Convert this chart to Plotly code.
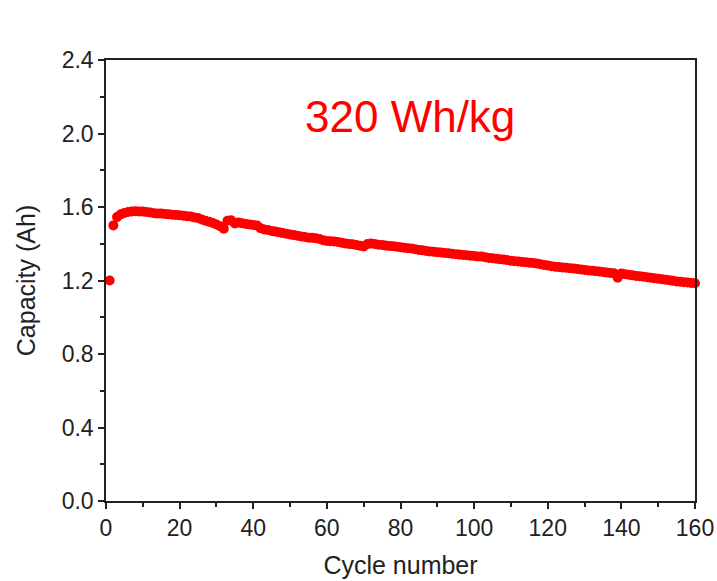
import plotly.graph_objects as go

cycles = list(range(1, 161))
capacity = [
    1.200, 1.500, 1.545, 1.560, 1.568, 1.573, 1.576, 1.577, 1.576, 1.575,
    1.573, 1.570, 1.566, 1.564, 1.565, 1.562, 1.560, 1.558, 1.557, 1.555,
    1.553, 1.550, 1.548, 1.543, 1.540, 1.532, 1.525, 1.520, 1.513, 1.505,
    1.495, 1.482, 1.525, 1.528, 1.510, 1.515, 1.512, 1.508, 1.505, 1.502,
    1.500, 1.485, 1.478, 1.475, 1.470, 1.466, 1.462, 1.458, 1.454, 1.450,
    1.447, 1.444, 1.440, 1.437, 1.433, 1.432, 1.430, 1.426, 1.419, 1.415,
    1.414, 1.412, 1.410, 1.406, 1.402, 1.399, 1.397, 1.393, 1.389, 1.385,
    1.398, 1.401, 1.399, 1.395, 1.393, 1.390, 1.388, 1.386, 1.384, 1.381,
    1.378, 1.376, 1.374, 1.370, 1.366, 1.364, 1.361, 1.358, 1.356, 1.354,
    1.352, 1.350, 1.348, 1.346, 1.343, 1.341, 1.339, 1.337, 1.335, 1.333,
    1.331, 1.330, 1.327, 1.323, 1.321, 1.319, 1.316, 1.314, 1.311, 1.308,
    1.305, 1.303, 1.301, 1.299, 1.297, 1.295, 1.293, 1.289, 1.285, 1.282,
    1.278, 1.275, 1.273, 1.271, 1.269, 1.267, 1.265, 1.263, 1.260, 1.257,
    1.255, 1.253, 1.251, 1.249, 1.246, 1.243, 1.241, 1.239, 1.215, 1.238,
    1.234, 1.231, 1.228, 1.225, 1.223, 1.221, 1.218, 1.215, 1.212, 1.210,
    1.207, 1.204, 1.201, 1.198, 1.195, 1.193, 1.191, 1.189, 1.187, 1.185,
]

x_ticks = [0, 20, 40, 60, 80, 100, 120, 140, 160]
y_ticks = [0.0, 0.4, 0.8, 1.2, 1.6, 2.0, 2.4]
y_tick_labels = ["0.0", "0.4", "0.8", "1.2", "1.6", "2.0", "2.4"]
label_text = "320 Wh/kg"

fig = go.Figure()
fig.add_trace(go.Scatter(
    x=cycles, y=capacity, mode="markers",
    marker=dict(color="#ff0000", size=10, line=dict(width=0)),
    showlegend=False, cliponaxis=False,
))

font_family = "Liberation Sans, Arial, sans-serif"
axis_common = dict(
    showline=True, linecolor="#222", linewidth=1.5, mirror=True,
    ticks="outside", ticklen=6, tickwidth=1.5, tickcolor="#222",
    showgrid=False, zeroline=False, automargin=False,
    tickfont=dict(family=font_family, size=23, color="#222"),
    ticklabeloverflow="allow",
)

fig.update_xaxes(
    range=[0, 160], tickvals=x_ticks,
    minor=dict(dtick=10, ticks="outside", ticklen=4, tickwidth=1.5, tickcolor="#222"),
    title=dict(text="Cycle number", font=dict(family=font_family, size=25, color="#222"), standoff=16),
    **axis_common,
)
fig.update_yaxes(
    range=[0, 2.4], tickvals=y_ticks, ticktext=y_tick_labels,
    minor=dict(dtick=0.2, ticks="outside", ticklen=4, tickwidth=1.5, tickcolor="#222"),
    title=dict(text="Capacity (Ah)", font=dict(family=font_family, size=25, color="#222"), standoff=19),
    **axis_common,
)

fig.add_annotation(
    x=0.516, y=0.872, xref="paper", yref="paper", text=label_text,
    xanchor="center", yanchor="middle",
    showarrow=False, font=dict(family=font_family, size=44, color="#ff0000"),
)

fig.update_layout(
    width=717, height=581,
    margin=dict(l=106, r=22, t=60, b=80),
    paper_bgcolor="white", plot_bgcolor="white",
)

fig.write_html("out.html")
